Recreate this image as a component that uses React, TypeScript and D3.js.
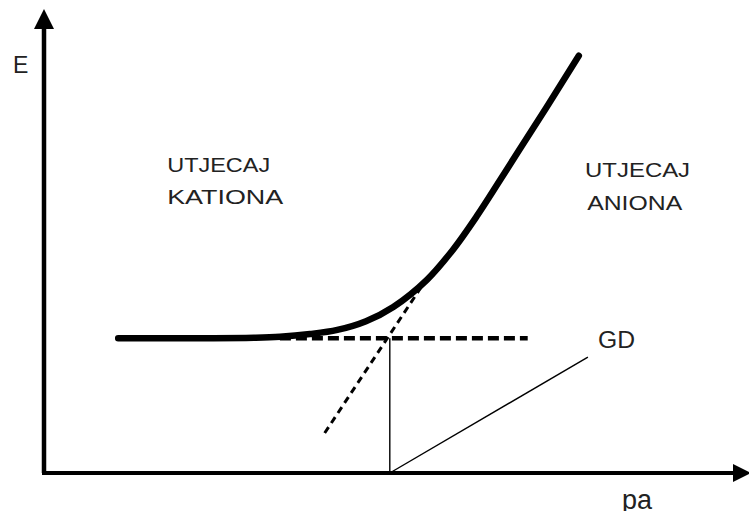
import React from "react";
import * as d3 from "d3";

// Abstract units: pa (x) 0..10, E (y) 0..10
const curveX = [1.06, 2.2, 3.0, 3.37, 3.8, 4.19, 4.6, 4.99, 5.47, 5.84, 6.19, 6.5, 6.8, 7.2, 7.64];
const curveY = [2.93, 2.93, 2.94, 2.96, 3.02, 3.11, 3.3, 3.61, 4.2, 4.85, 5.6, 6.33, 7.05, 8.0, 9.07];

const flatDashX = [3.37, 6.91];
const flatDashY = [2.93, 2.93];

const tangentX = [4.01, 5.5];
const tangentY = [0.87, 4.3];

const verticalX = [4.94, 4.94];
const verticalY = [0, 2.93];

const gdX = [4.94, 7.77];
const gdY = [0, 2.52];

const labels = [
  { text: "UTJECAJ", x: 1.76, y: 6.54, len: 103 },
  { text: "KATIONA", x: 1.76, y: 5.85, len: 116 },
  { text: "UTJECAJ", x: 7.73, y: 6.43, len: 105 },
  { text: "ANIONA", x: 7.76, y: 5.72, len: 95 },
];

const W = 749;
const H = 511;

export default function App() {
  const x = d3.scaleLinear().domain([0, 10]).range([44, 744]);
  const y = d3.scaleLinear().domain([0, 10]).range([473, 13]);

  const smooth = d3
    .line<[number, number]>()
    .x((d) => x(d[0]))
    .y((d) => y(d[1]))
    .curve(d3.curveCatmullRom.alpha(0.5));
  const straight = d3
    .line<[number, number]>()
    .x((d) => x(d[0]))
    .y((d) => y(d[1]));

  const zip = (a: number[], b: number[]) => a.map((v, i) => [v, b[i]] as [number, number]);

  const x0 = x(0);
  const y0 = y(0);
  const font = "'Liberation Sans', Arial, sans-serif";

  return (
    <svg
      width={W}
      height={H}
      style={{ position: "absolute", left: 0, top: 0, background: "#fff" }}
    >
      {/* axes */}
      <line x1={x0} y1={y0} x2={x0} y2={26} stroke="#000" strokeWidth={4.5} />
      <line x1={x0 - 2} y1={y0} x2={736} y2={y0} stroke="#000" strokeWidth={4} />
      <path d={`M${x0},9 L${x0 - 10},29 L${x0 + 10},29 Z`} fill="#000" />
      <path d={`M751,${y0} L733,${y0 - 9} L733,${y0 + 9} Z`} fill="#000" />

      {/* thin lines */}
      <path d={straight(zip(verticalX, verticalY)) || ""} stroke="#000" strokeWidth={1.4} fill="none" />
      <path d={straight(zip(gdX, gdY)) || ""} stroke="#000" strokeWidth={1.4} fill="none" />

      {/* dashed lines */}
      <path
        d={straight(zip(flatDashX, flatDashY)) || ""}
        stroke="#000"
        strokeWidth={4.5}
        strokeDasharray="11 5"
        fill="none"
      />
      <path
        d={straight(zip(tangentX, tangentY)) || ""}
        stroke="#000"
        strokeWidth={3}
        strokeDasharray="7 5"
        fill="none"
      />

      {/* main curve */}
      <path
        d={smooth(zip(curveX, curveY)) || ""}
        stroke="#000"
        strokeWidth={6.5}
        fill="none"
        strokeLinecap="round"
        strokeLinejoin="round"
      />

      {/* labels */}
      {labels.map((l, i) => (
        <text
          key={i}
          x={x(l.x)}
          y={y(l.y)}
          fontFamily={font}
          fontSize={21}
          fill="#222"
          textLength={l.len}
          lengthAdjust="spacingAndGlyphs"
        >
          {l.text}
        </text>
      ))}
      <text x={598} y={348} fontFamily={font} fontSize={23} fill="#222" textLength={37} lengthAdjust="spacingAndGlyphs">
        GD
      </text>
      <text x={13} y={73} fontFamily={font} fontSize={23} fill="#222">
        E
      </text>
      <text x={622} y={509} fontFamily={font} fontSize={27} fill="#222">
        pa
      </text>
    </svg>
  );
}
